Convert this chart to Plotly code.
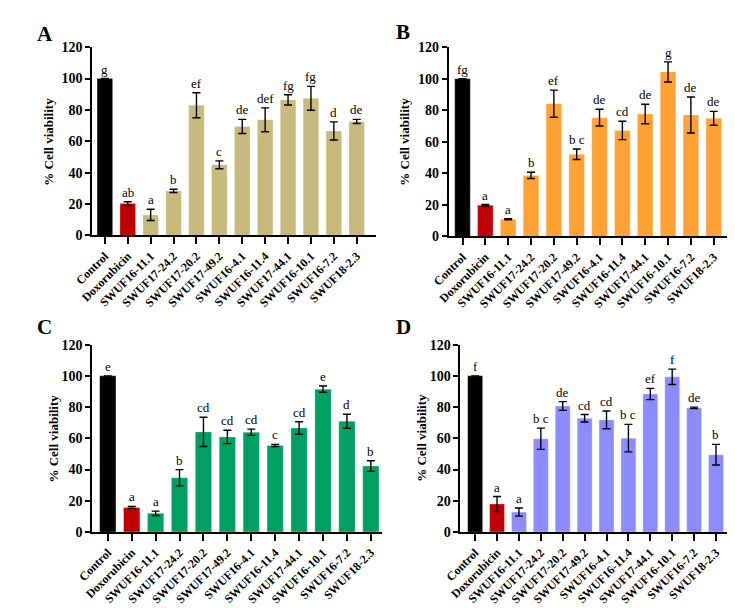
import plotly.graph_objects as go

categories = ["Control", "Doxorubicin", "SWUF16-11.1", "SWUF17-24.2", "SWUF17-20.2",
              "SWUF17-49.2", "SWUF16-4.1", "SWUF16-11.4", "SWUF17-44.1", "SWUF16-10.1",
              "SWUF16-7.2", "SWUF18-2.3"]

a_vals = [100, 20.3, 13.1, 28.4, 83.0, 45.0, 69.5, 73.7, 86.4, 87.4, 66.6, 72.7]
a_err = [0, 1.2, 3.6, 1.0, 8.0, 2.5, 4.5, 7.6, 3.3, 7.6, 5.8, 1.3]
a_let = ["g", "ab", "a", "b", "ef", "c", "de", "def", "fg", "fg", "d", "de"]

b_vals = [100, 19.7, 10.9, 38.7, 84.2, 52.1, 75.3, 67.2, 77.6, 104.3, 77.0, 74.9]
b_err = [0, 0.5, 0.3, 2.0, 8.6, 3.3, 5.3, 5.8, 6.2, 6.4, 11.4, 4.4]
b_let = ["fg", "a", "a", "b", "ef", "b c", "de", "cd", "de", "g", "de", "de"]

c_vals = [100, 15.6, 11.9, 34.7, 64.1, 60.9, 63.9, 55.4, 66.6, 91.5, 70.9, 42.2]
c_err = [0, 0.7, 1.4, 5.2, 9.4, 4.3, 2.0, 0.7, 4.0, 2.0, 4.5, 3.4]
c_let = ["e", "a", "a", "b", "cd", "cd", "cd", "c", "cd", "e", "d", "b"]

d_vals = [100, 17.9, 12.7, 59.7, 80.7, 72.8, 71.8, 60.1, 88.4, 99.4, 79.5, 49.5]
d_err = [0, 4.8, 2.6, 6.8, 2.8, 2.4, 5.7, 8.8, 3.6, 4.9, 0.5, 6.6]
d_let = ["f", "a", "a", "b c", "de", "cd", "cd", "b c", "ef", "f", "de", "b"]

y_ticks = [0, 20, 40, 60, 80, 100, 120]

W, H = 735, 608
SERIF = "Liberation Serif"

panels = [
    # label, vals, err, letters, color, x0px, x1px, ytop, ybot, xrange, label pos, ytitle x
    ("A", a_vals, a_err, a_let, "#C8B97D", 67, 358, 33, 226, [-0.55, 11.83], (18, 19), 22),
    ("B", b_vals, b_err, b_let, "#FFA233", 433, 723, 33, 227, [-0.6, 11.77], (386, 17), 388),
    ("C", c_vals, c_err, c_let, "#00A064", 67, 364, 338, 530, [-0.65, 11.45], (18, 320), 27),
    ("D", d_vals, d_err, d_let, "#8C8CFF", 445, 723, 338, 530, [-0.67, 11.7], (386, 320), 405),
]

fig = go.Figure()
annotations = []
layout = {}
for k, (lab, vals, err, lets, col, x0, x1, yt, yb, xr, lpos, ytx) in enumerate(panels):
    sfx = "" if k == 0 else str(k + 1)
    colors = ["#000000", "#C00000"] + [col] * (len(categories) - 2)
    xs = list(range(len(categories)))
    fig.add_trace(go.Bar(
        x=xs, y=vals, width=0.68,
        marker=dict(color=colors, line=dict(color="rgba(255,255,255,0.5)", width=0.5)),
        error_y=dict(type="data", array=err, visible=True, color="black", thickness=1.4, width=4),
        xaxis="x" + sfx, yaxis="y" + sfx, showlegend=False,
    ))
    layout["xaxis" + sfx] = dict(
        domain=[x0 / W, x1 / W], range=xr, anchor="y" + sfx,
        tickvals=xs, ticktext=categories, tickangle=-45,
        showline=True, linecolor="black", linewidth=2,
        ticks="outside", ticklen=7, tickwidth=2, tickcolor="black",
        showgrid=False, zeroline=False,
        tickfont=dict(family=SERIF, size=12, color="black", weight="bold"),
    )
    layout["yaxis" + sfx] = dict(
        domain=[1 - yb / H, 1 - yt / H], range=[0, 120], anchor="x" + sfx,
        tickvals=y_ticks, showline=True, linecolor="black", linewidth=2,
        ticks="outside", ticklen=5, tickwidth=2, tickcolor="black",
        showgrid=False, zeroline=False,
        tickfont=dict(family=SERIF, size=14, color="black", weight="bold"),
    )
    for i, (v, e, t) in enumerate(zip(vals, err, lets)):
        annotations.append(dict(
            x=i, y=v + e, xref="x" + sfx, yref="y" + sfx, text=t, showarrow=False,
            yanchor="bottom", yshift=0, font=dict(family=SERIF, size=13, color="black"),
        ))
    annotations.append(dict(
        x=lpos[0] / W, y=1 - lpos[1] / H, xref="paper", yref="paper", text="<b>" + lab + "</b>",
        showarrow=False, xanchor="center", yanchor="middle",
        font=dict(family=SERIF, size=21, color="black"),
    ))
    annotations.append(dict(
        x=ytx / W, y=1 - ((yt + yb) / 2) / H, xref="paper", yref="paper",
        text="<b>% Cell viability</b>", textangle=-90, showarrow=False,
        xanchor="center", yanchor="middle",
        font=dict(family=SERIF, size=13, color="black"),
    ))

fig.update_layout(
    width=W, height=H, margin=dict(l=0, r=0, t=0, b=0),
    paper_bgcolor="white", plot_bgcolor="white",
    annotations=annotations, bargap=0.3, **layout,
)
fig.write_html("out.html")
